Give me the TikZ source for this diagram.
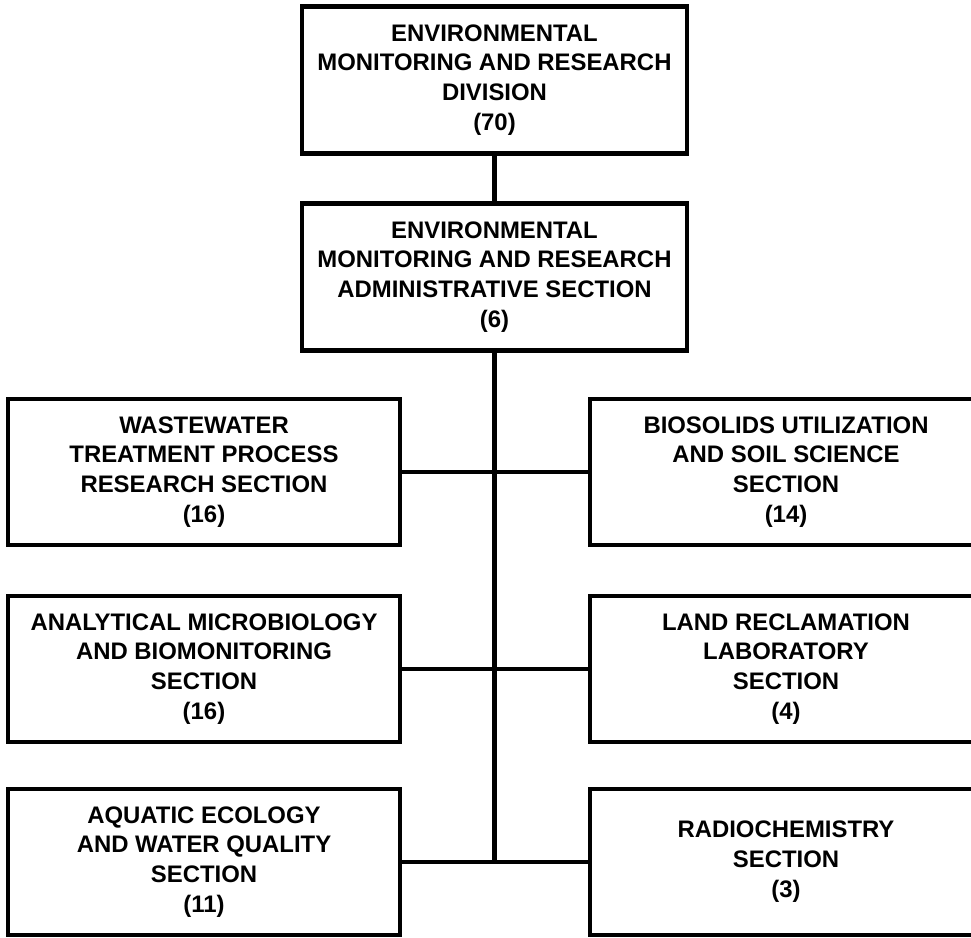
\documentclass[tikz,border=0pt]{standalone}
\usepackage{fontspec}
\setmainfont{Liberation Sans}
\usetikzlibrary{positioning}
\tikzset{unit/.style={draw, line width=2.6pt, align=center, minimum width=7.84cm, minimum height=2.92cm, inner sep=0pt, font=\bfseries\fontsize{13.6}{17}\selectfont}}
\tikzset{head/.style={unit, minimum width=7.7cm, minimum height=2.94cm}}
\tikzset{link/.style={line width=2.4pt}}

\begin{document}
\begin{tikzpicture}
\useasboundingbox (0,0) rectangle (19.42,-18.76);
\begin{scope}[on grid]
\node[head] (div) at (9.89, -1.6) {ENVIRONMENTAL\\MONITORING AND RESEARCH\\DIVISION\\(70)};
\node[head] (adm) [below = 3.94 of div] {ENVIRONMENTAL\\MONITORING AND RESEARCH\\ADMINISTRATIVE SECTION\\(6)};

\node[unit] (wtp) [below left = 3.9 and 5.81 of adm] {WASTEWATER\\TREATMENT PROCESS\\RESEARCH SECTION\\(16)};
\node[unit] (bio) [right = 11.64 of wtp] {BIOSOLIDS UTILIZATION\\AND SOIL SCIENCE\\SECTION\\(14)};
\node[unit] (amb) [below = 3.94 of wtp] {ANALYTICAL MICROBIOLOGY\\AND BIOMONITORING\\SECTION\\(16)};
\node[unit] (lrl) [right = 11.64 of amb] {LAND RECLAMATION\\LABORATORY\\SECTION\\(4)};
\node[unit] (aeq) [below = 3.86 of amb] {AQUATIC ECOLOGY\\AND WATER QUALITY\\SECTION\\(11)};
\node[unit] (rad) [right = 11.64 of aeq] {RADIOCHEMISTRY\\SECTION\\(3)};

\coordinate (foot) at (adm.south |- rad.west);

\draw[link] (div) -- (adm);
\draw[link] (adm) -- (foot);
\draw[link] (wtp) -- (bio);
\draw[link] (amb) -- (lrl);
\draw[link] (aeq) -- (rad);
\end{scope}
\end{tikzpicture}
\end{document}
